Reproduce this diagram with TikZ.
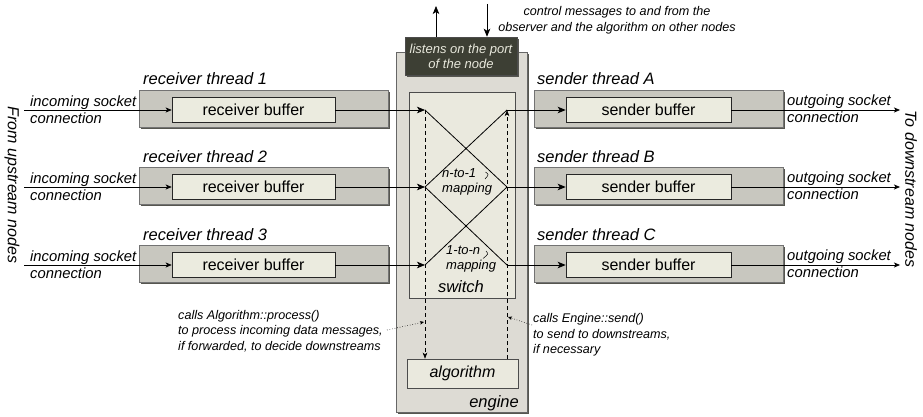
\documentclass[tikz,border=0pt]{standalone}
\usepackage{fontspec}
\setmainfont{Liberation Sans}
\usetikzlibrary{arrows.meta,shadows}
\definecolor{engfill}{HTML}{DDDBD4}
\definecolor{thrfill}{HTML}{C8C7BF}
\definecolor{buffill}{HTML}{EBEBDF}
\definecolor{swfill}{HTML}{EAE9DE}
\definecolor{portfill}{HTML}{3D3F34}
\definecolor{porttext}{HTML}{E8E8DC}
\definecolor{shade}{HTML}{56564F}
\begin{document}
\begin{tikzpicture}[x=1pt,y=-1pt,
  boxshadow/.style={drop shadow={shadow xshift=2.2pt,shadow yshift=-2.2pt,fill=shade,opacity=1}},
  thread/.style={draw=black!55,line width=0.5pt,fill=thrfill,minimum width=249pt,minimum height=37pt,inner sep=0pt,boxshadow},
  buffer/.style={draw=black!85,line width=0.6pt,fill=buffill,minimum height=25pt,inner sep=0pt,font=\fontsize{16}{18}\selectfont},
  engbox/.style={draw=black!60,line width=0.5pt,fill=engfill,inner sep=0pt,boxshadow},
  portbox/.style={draw=black!70,line width=0.5pt,fill=portfill,text=porttext,inner sep=0pt,align=center,
    font=\fontsize{13}{15}\selectfont\itshape,boxshadow},
  swbox/.style={draw=black!70,line width=0.5pt,fill=swfill,inner sep=0pt},
  ttl/.style={font=\fontsize{16.5}{18}\selectfont\itshape,inner sep=0pt},
  sock/.style={font=\fontsize{14.8}{17}\selectfont\itshape,inner sep=0pt,align=left},
  note/.style={font=\fontsize{12.6}{15.5}\selectfont\itshape,inner sep=0pt,align=left},
  mapnote/.style={font=\fontsize{13}{15}\selectfont\itshape,inner sep=0pt,align=left},
  side/.style={font=\fontsize{16}{18}\selectfont\itshape,inner sep=0pt,rotate=-90},
  flow/.style={line width=0.8pt,-{Stealth[length=8pt,width=6.5pt,inset=2pt]}},
  flowin/.style={line width=0.7pt,-{Stealth[length=6pt,width=5pt,inset=1.5pt]}},
  mapline/.style={line width=0.8pt},
  dashflow/.style={line width=0.6pt,dash pattern=on 4pt off 3pt,-{Stealth[length=6pt,width=4.5pt,inset=1.5pt]}},
  dotflow/.style={line width=0.6pt,dotted,-{Stealth[length=4pt,width=3.5pt,inset=1pt]}}
]
\useasboundingbox (0,0) rectangle (923,417);

% engine column with its switch and algorithm
\node[engbox,minimum width=131pt,minimum height=360pt] (engine) at (461.5,232) {};
\node[portbox,minimum width=112pt,minimum height=38pt] (port) at (461,56) {listens on the port\\of the node};
\node[swbox,minimum width=106pt,minimum height=206pt] (switch) at (462,195) {};
\node[swbox,minimum width=111pt,minimum height=29pt,font=\fontsize{16}{18}\selectfont\itshape] (alg) at (462.5,373.5) {algorithm};
\node[ttl,anchor=base] (swlabel) at (461,292) {switch};
\node[ttl,anchor=base east] (englabel) at (519,407) {engine};

% control channel above the engine
\coordinate (upend) at (436,6);
\coordinate (downstart) at (487,4);
\draw[flow] (upend |- port.north) -- (upend);
\draw[flow] (downstart) -- (downstart |- port.north);
\node[note,align=center] (ctrl) at (617,20) {control messages to and from the\\observer and the algorithm on other nodes};

% receiver and sender threads
\foreach \i/\y/\s in {1/110/A,2/187/B,3/265/C}{
  \node[thread] (rt\i) at (263.5,{\y-1.5}) {};
  \node[buffer,minimum width=163pt] (rb\i) at (253.5,\y) {receiver buffer};
  \node[ttl,anchor=base west] (rl\i) at (143,{\y-25}) {receiver thread \i};
  \node[sock,anchor=west] (rs\i) at (30,{\y-0.5}) {incoming socket\\connection};
  \coordinate (in\i) at (24,\y);
  \draw[flowin] (in\i) -- (rb\i);
  \node[thread] (st\i) at (658.5,{\y-1.5}) {};
  \node[buffer,minimum width=165pt] (sb\i) at (648.5,\y) {sender buffer};
  \node[ttl,anchor=base west] (sl\i) at (537,{\y-25}) {sender thread \s};
  \node[sock,anchor=west] (ss\i) at (787,{\y-1.5}) {outgoing socket\\connection};
  \coordinate (out\i) at (900,\y);
  \draw[flowin] (sb\i) -- (out\i);
  \coordinate (L\i) at (425,\y);
  \coordinate (R\i) at (507,\y);
  \draw[flow] (rb\i) -- (L\i);
  \draw[flow] (R\i) -- (sb\i);
}

% switch mappings
\draw[mapline] (L1) -- (R2) (L2) -- (R1) (L2) -- (R3) (L3) -- (R2);
\node[mapnote,anchor=west] (n2one) at (442,182) {n-to-1\\mapping};
\node[mapnote,anchor=west] (one2n) at (446,259) {1-to-n\\mapping};
\draw[line width=0.5pt] (485.5,172) .. controls (489,174.5) .. (485,179);
\draw[line width=0.5pt] (486,251) .. controls (488.5,254) .. (483,258.5);

% calls between switch and algorithm
\draw[dashflow] (L1) -- (L1 |- alg.north);
\draw[dashflow] (R1 |- alg.north) -- (R1);
\node[note,anchor=west] (procnote) at (178,331) {calls Algorithm::process()\\to process incoming data messages,\\if forwarded, to decide downstreams};
\node[note,anchor=west] (sendnote) at (533,335) {calls Engine::send()\\to send to downstreams,\\if necessary};
\coordinate (procfrom) at (387,330);
\coordinate (procto) at (424,322);
\coordinate (sendfrom) at (532,325);
\coordinate (sendto) at (508,317);
\draw[dotflow] (procfrom) -- (procto);
\draw[dotflow] (sendfrom) -- (sendto);

% side labels
\node[side] (upstream) at (12,185) {From upstream nodes};
\node[side] (downstream) at (911,189) {To downstream nodes};
\end{tikzpicture}
\end{document}
